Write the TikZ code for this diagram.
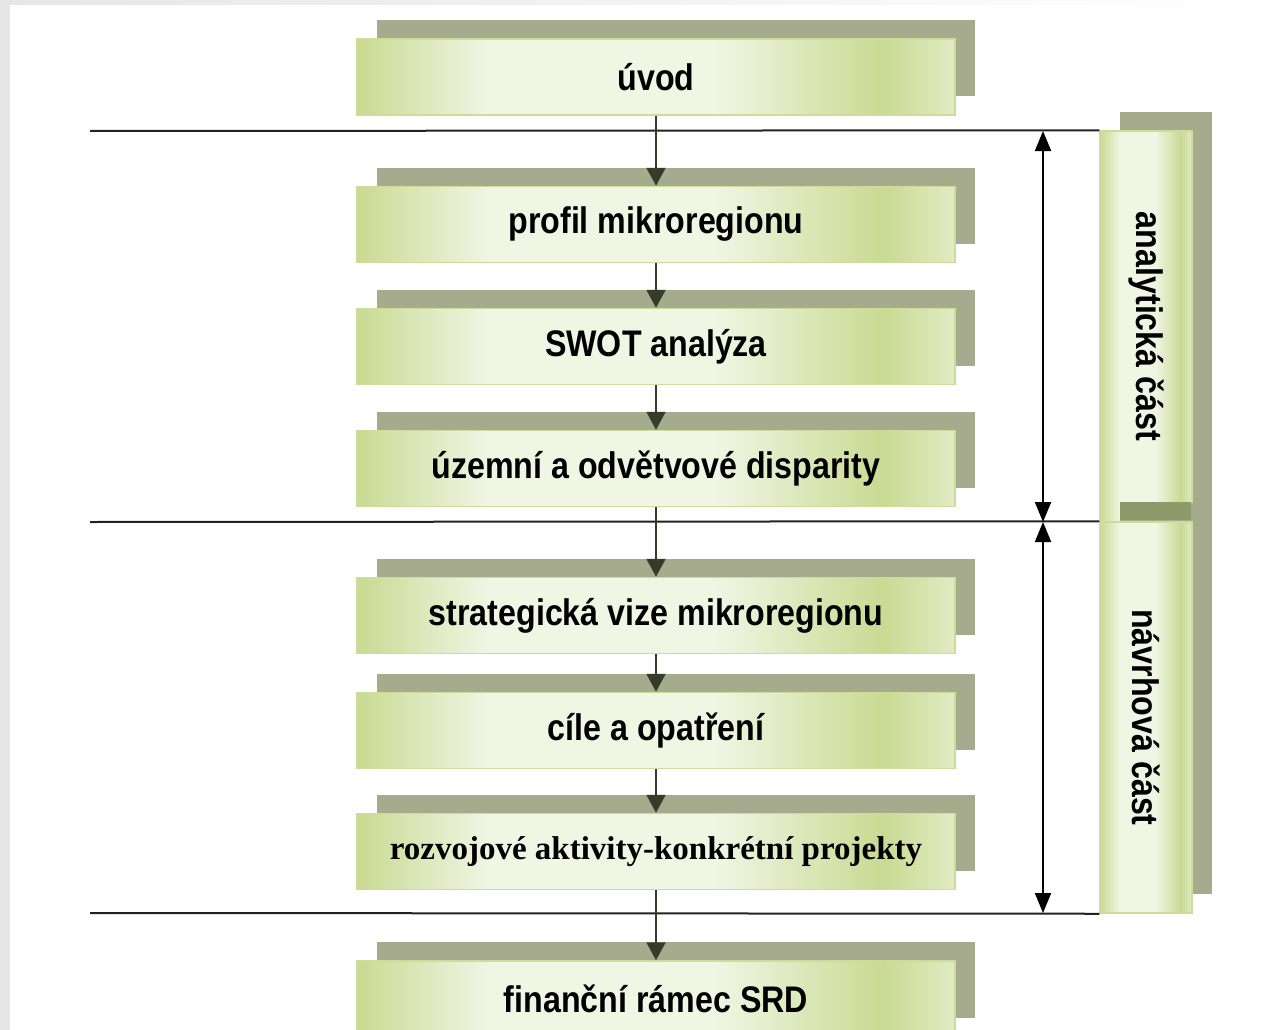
\documentclass[tikz,border=0pt]{standalone}
\usepackage{fontspec}
\usetikzlibrary{arrows.meta,shadows}
\newfontfamily\boxfont{Liberation Sans Bold}[FakeStretch=0.87]
\newfontfamily\boxserif{Liberation Serif Bold}
\definecolor{gA}{HTML}{C9DA92}
\definecolor{gB}{HTML}{F1F5E4}
\definecolor{gC}{HTML}{E2EBC4}
\definecolor{edgec}{HTML}{CEDC9A}
\definecolor{shadowc}{HTML}{A6AB8E}
\definecolor{darkshc}{HTML}{8F9A6A}
\definecolor{arrowc}{HTML}{363B2A}
\definecolor{linec}{HTML}{222222}
\definecolor{bgc}{HTML}{E6E6E6}
\pgfdeclarehorizontalshading{boxsh}{100bp}{color(0bp)=(gA); color(25bp)=(gA); color(36bp)=(gB); color(55bp)=(gB); color(69bp)=(gA); color(75bp)=(gC); color(100bp)=(gC)}
\tikzset{
  stagebox/.style={draw=edgec, line width=1.5pt, shading=boxsh,
    minimum width=598pt, minimum height=76pt, inner sep=0pt,
    drop shadow={shadow xshift=20pt, shadow yshift=19pt, fill=shadowc, opacity=1},
    font=\boxfont\fontsize{37}{44}\selectfont, text=black},
  partbar/.style={draw=edgec, line width=1.5pt, shading=boxsh,
    minimum width=92pt, minimum height=391pt, inner sep=0pt,
    drop shadow={shadow xshift=20pt, shadow yshift=19pt, fill=shadowc, opacity=1}},
  barlabel/.style={rotate=-90, font=\boxfont\fontsize{37}{44}\selectfont, text=black},
  flow/.style={draw=arrowc, line width=2pt, -{Triangle[width=19pt,length=18pt,fill=arrowc]}},
  sepline/.style={draw=linec, line width=2pt},
  dimarrow/.style={draw=black, line width=2pt, {Triangle[width=16pt,length=20pt]}-{Triangle[width=16pt,length=20pt]}}
}
\begin{document}
\begin{tikzpicture}[x=1pt,y=-1pt]
\useasboundingbox (0,0) rectangle (1263,1030);
\fill[white] (0,0) rectangle (1263,1030);
\fill[bgc] (0,0) rectangle (10,1030);
\shade[left color=bgc, right color=white] (0,0) rectangle (1263,5);
% separator lines
\coordinate (l1) at (90,131);
\coordinate (l2) at (90,522);
\coordinate (l3) at (90,913);
% right part bars
\node[partbar] (bar1) at (1146,326.5) {};
\node[barlabel] (t1) at (bar1.center) {analytická část};
\node[partbar] (bar2) at (1146,717.5) {};
\node[barlabel] (t2) at (bar2.center) {návrhová část};
\fill[darkshc] (1120,502) rectangle (1191,520);
\draw[sepline] (l1) -- (bar1.north west);
\draw[sepline] (l2) -- (bar2.north west);
\draw[sepline] (l3) -- (bar2.south west);
% stage boxes
\node[stagebox] (b1) at (656,77) {úvod};
\node[stagebox] (b2) at (656,224.5) {profil mikroregionu};
\node[stagebox] (b3) at (656,346.5) {SWOT analýza};
\node[stagebox] (b4) at (656,468.5) {územní a odvětvové disparity};
\node[stagebox] (b5) at (656,615.5) {strategická vize mikroregionu};
\node[stagebox] (b6) at (656,730.5) {cíle a opatření};
\node[stagebox, font=\boxserif\fontsize{33}{40}\selectfont] (b7) at (656,851.5) {rozvojové aktivity-konkrétní projekty};
\node[stagebox] (b8) at (656,999) {finanční rámec SRD};
% flow arrows
\draw[flow] (b1.south) -- (b2.north);
\draw[flow] (b2.south) -- (b3.north);
\draw[flow] (b3.south) -- (b4.north);
\draw[flow] (b4.south) -- (b5.north);
\draw[flow] (b5.south) -- (b6.north);
\draw[flow] (b6.south) -- (b7.north);
\draw[flow] (b7.south) -- (b8.north);
% dimension arrows
\coordinate (d1) at (1043,131);
\coordinate (d2) at (1043,522);
\coordinate (d3) at (1043,913);
\draw[dimarrow] (d1) -- (d2);
\draw[dimarrow] (d2) -- (d3);
\end{tikzpicture}
\end{document}
